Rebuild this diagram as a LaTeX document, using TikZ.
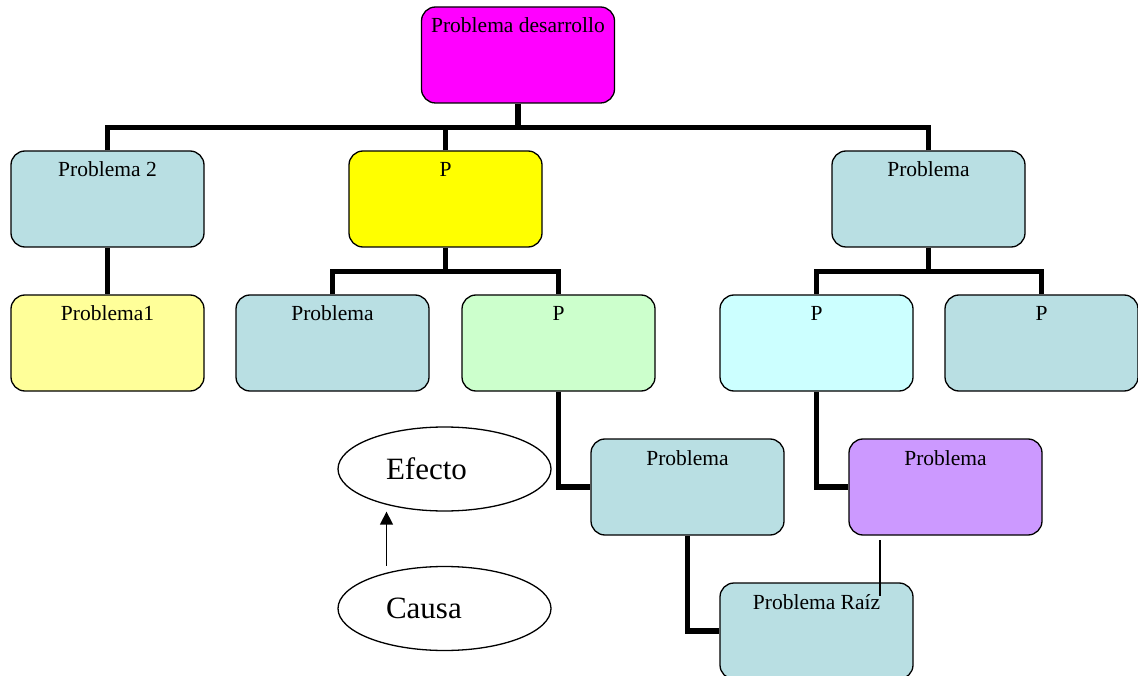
\documentclass[tikz,border=0pt]{standalone}
\usepackage{fontspec}
\setmainfont{Liberation Serif}
\usetikzlibrary{arrows.meta,positioning,calc,shapes.geometric}
\definecolor{rosa}{HTML}{FF00FF}
\definecolor{gris}{HTML}{B9DFE3}
\definecolor{amarillo}{HTML}{FFFF00}
\definecolor{crema}{HTML}{FFFF99}
\definecolor{menta}{HTML}{CCFFCC}
\definecolor{celeste}{HTML}{CCFFFF}
\definecolor{lila}{HTML}{CC99FF}
\tikzset{
  >={Triangle[length=13pt,width=13pt]},
  % cajas
  caja/.style={draw=black,line width=1.3pt,rounded corners=14pt,inner sep=0pt,
               minimum width=193pt,text height=26pt,text depth=70pt,
               font=\fontsize{21.5}{24}\selectfont},
  c1/.style={fill=rosa},
  c2/.style={fill=gris},
  c3/.style={fill=amarillo},
  c4/.style={fill=crema},
  c5/.style={fill=menta},
  c6/.style={fill=celeste},
  c7/.style={fill=lila},
  % leyenda
  elip/.style={ellipse,draw=black,line width=1.3pt,minimum width=213pt,
               minimum height=84pt,text width=117pt,align=left,
               font=\fontsize{31}{34}\selectfont},
  % lineas
  rama/.style={draw=black,line width=5.5pt},
  fina/.style={draw=black,line width=1.3pt},
  flecha/.style={->,draw=black,line width=1.5pt},
}
\begin{document}
\begin{tikzpicture}[x=1pt,y=-1pt]
  \useasboundingbox (0,0) rectangle (1138,676);
  \node[caja,c1] (pd) at (518,55) {Problema desarrollo};
  \node[caja,c2] (p2) at (107.5,199) {Problema 2};
  \node[caja,c3] (py) at (445.5,199) {P};
  \node[caja,c2] (pr) at (928.5,199) {Problema};
  \node[caja,c4] (p1) at (107.5,343) {Problema1};
  \node[caja,c2] (pa) at (332.5,343) {Problema};
  \node[caja,c5] (pg) at (558.5,343) {P};
  \node[caja,c6] (pc) at (816.5,343) {P};
  \node[caja,c2] (pp) at (1041.5,343) {P};
  \node[caja,c2] (pb) at (687.5,487) {Problema};
  \node[caja,c7] (pv) at (945.5,487) {Problema};
  \node[caja,c2] (rz) at (816.5,631) {Problema Raíz};
  \node[elip] (ef) at (444.5,469) {Efecto};
  \node[elip] (ca) at (444.5,608.5) {Causa};
  % arbol
  \draw[rama] (pd.south) -- ++(0,24) coordinate (t0);
  \draw[rama] (p2.north) |- (t0);
  \draw[rama] (pr.north) |- (t0);
  \draw[rama] (py.north) -- (py.north |- t0);
  \draw[rama] (p2.south) -- (p1.north);
  \draw[rama] (py.south) -- ++(0,24) coordinate (t1);
  \draw[rama] (pa.north) |- (t1);
  \draw[rama] (pg.north) |- (t1);
  \draw[rama] (pr.south) -- ++(0,24) coordinate (t2);
  \draw[rama] (pc.north) |- (t2);
  \draw[rama] (pp.north) |- (t2);
  \draw[rama] (pg.south) |- (pb.west);
  \draw[rama] (pc.south) |- (pv.west);
  \draw[rama] (pb.south) |- (rz.west);
  \coordinate (v1) at (880,540);
  \coordinate (v2) at (880,596);
  \draw[fina] (v1) -- (v2);
  \draw[flecha] ([xshift=-58pt]ca.north) -- ([xshift=-58pt]ef.south);
\end{tikzpicture}
\end{document}
